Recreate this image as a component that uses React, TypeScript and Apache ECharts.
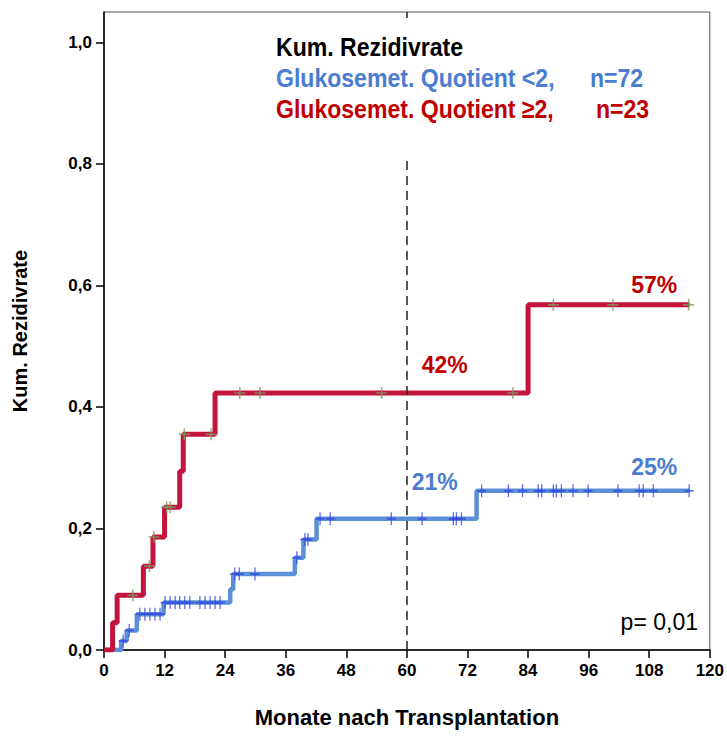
import React, { useEffect, useRef } from "react";
import * as echarts from "echarts";

// ---- data ----
const xTickValues = [0, 12, 24, 36, 48, 60, 72, 84, 96, 108, 120];
const yTickValues = [0, 0.2, 0.4, 0.6, 0.8, 1.0];

// Glukosemet. Quotient >= 2 (n=23): [month, cumulative recurrence]
const highSteps: [number, number][] = [
  [0, 0], [1.7, 0.045], [2.6, 0.09], [7.8, 0.138], [9.7, 0.186], [12, 0.235],
  [15, 0.294], [15.7, 0.355], [22, 0.423], [84, 0.568],
];
const highCensor = [5.7, 9.0, 9.9, 12.4, 13.1, 15.9, 21.2, 26.9, 30.9, 55, 81, 89, 100.8, 115.8];
const highEnd = 116;

// Glukosemet. Quotient < 2 (n=72)
const lowSteps: [number, number][] = [
  [0, 0], [3.4, 0.015], [4.5, 0.032], [6.5, 0.059], [11.8, 0.078], [25, 0.1],
  [25.6, 0.125], [37.8, 0.152], [39.5, 0.182], [42.1, 0.216], [73.8, 0.262],
];
const lowCensor = [
  3.8, 5.0, 7.1, 8.1, 9.1, 10.1, 11.1,
  12.1, 13.1, 14.1, 15.0, 16.0, 17.0, 19.0, 20.0, 21.0, 22.0, 23.0,
  25.9, 26.8, 29.9, 38.2, 39.8, 40.4,
  42.8, 44.8, 56.9, 63, 69.2, 69.8, 70.8,
  74.8, 80.1, 82.9, 86, 86.7, 89, 89.6, 90.6, 92.9, 95.9, 101.8, 106, 106.8, 108.8, 115.9,
];
const lowEnd = 116;

const landmarkMonth = 60;
const annotations = [
  { text: "42%", month: 67.5, value: 0.469, group: "high" },
  { text: "57%", month: 109, value: 0.6, group: "high" },
  { text: "21%", month: 65.5, value: 0.276, group: "low" },
  { text: "25%", month: 109, value: 0.301, group: "low" },
];

const legendTitle = "Kum. Rezidivrate";
const legendLow = "Glukosemet. Quotient <2,";
const legendLowN = "n=72";
const legendHigh = "Glukosemet. Quotient \u22652,";
const legendHighN = "n=23";
const pValue = "p= 0,01";
const xTitle = "Monate nach Transplantation";
const yTitle = "Kum. Rezidivrate";

// ---- helpers ----
const RED = "#c2143c";
const RED_TXT = "#c00000";
const BLUE = "#5b8fd8";
const BLUE_TXT = "#4a7dd0";
const RED_MARK = "#7f9a62";
const BLUE_MARK = "#3346e0";
const SANS = '"Liberation Sans", Arial, sans-serif';
const PLUS = "path://M-0.7,-5H0.7V-0.7H5V0.7H0.7V5H-0.7V0.7H-5V-0.7H-0.7Z";

function levelAt(steps: [number, number][], t: number) {
  let v = 0;
  for (const [s, y] of steps) if (s <= t) v = y;
  return v;
}
function curve(steps: [number, number][], end: number) {
  const d = steps.map((p) => [p[0], p[1]]);
  d.push([end, steps[steps.length - 1][1]]);
  return d;
}
const fmt = (v: number) => v.toFixed(1).replace(".", ",");

export default function App() {
  const ref = useRef<HTMLDivElement>(null);
  useEffect(() => {
    document.body.style.margin = "0";
    const chart = echarts.init(ref.current!, undefined, { renderer: "svg" });
    const annot = (g: string, color: string) =>
      annotations
        .filter((a) => a.group === g)
        .map((a) => ({
          coord: [a.month, a.value],
          symbolSize: 0,
          label: {
            show: true,
            formatter: a.text,
            color,
            fontFamily: SANS,
            fontWeight: "bold",
            fontSize: 23,
            position: "inside",
          },
        }));
    const legendText = (text: string, x: number, y: number, fill: string) => ({
      type: "text",
      z: 11,
      x,
      y,
      scaleX: 0.87,
      style: { text, fill, font: `bold 26.5px ${SANS}`, verticalAlign: "middle" },
    });
    chart.setOption({
      animation: false,
      grid: { left: 104, right: 17, top: 12, bottom: 92, show: true, borderColor: "#555", borderWidth: 1 },
      xAxis: {
        type: "value",
        min: 0,
        max: 120,
        interval: 12,
        splitLine: { show: false },
        axisLine: { show: true, lineStyle: { color: "#000", width: 1.5 } },
        axisTick: { show: true, length: 8, lineStyle: { color: "#000", width: 1.5 } },
        axisLabel: {
          color: "#000", fontFamily: SANS, fontWeight: "bold", fontSize: 17, margin: 12,
          formatter: (v: number) => (xTickValues.includes(v) ? String(v) : ""),
        },
        name: xTitle,
        nameLocation: "middle",
        nameGap: 56,
        nameTextStyle: { color: "#000", fontFamily: SANS, fontWeight: "bold", fontSize: 22 },
      },
      yAxis: {
        type: "value",
        min: 0,
        max: 1.05,
        splitLine: { show: false },
        axisLine: { show: true, lineStyle: { color: "#000", width: 1.5 } },
        axisTick: { show: true, length: 8, customValues: yTickValues, lineStyle: { color: "#000", width: 1.5 } },
        axisLabel: {
          color: "#000", fontFamily: SANS, fontWeight: "bold", fontSize: 17, margin: 12,
          customValues: yTickValues,
          formatter: (v: number) => fmt(v),
        },
        name: yTitle,
        nameLocation: "middle",
        nameGap: 74,
        nameTextStyle: { color: "#000", fontFamily: SANS, fontWeight: "bold", fontSize: 20 },
      },
      series: [
        {
          type: "line",
          step: "end",
          data: curve(lowSteps, lowEnd),
          showSymbol: false,
          lineStyle: { color: BLUE, width: 4.5 },
          z: 3,
          markPoint: { symbol: "circle", symbolSize: 0, data: annot("low", BLUE_TXT), silent: true },
          markLine: {
            silent: true,
            symbol: "none",
            label: { show: false },
            lineStyle: { color: "#222", width: 1.5, type: [9, 6] },
            data: [[{ coord: [landmarkMonth, 0] }, { coord: [landmarkMonth, 1.05] }]],
          },
        },
        {
          type: "line",
          step: "end",
          data: curve(highSteps, highEnd),
          showSymbol: false,
          lineStyle: { color: RED, width: 5 },
          z: 4,
          markPoint: { symbol: "circle", symbolSize: 0, data: annot("high", RED_TXT), silent: true },
        },
        {
          type: "scatter",
          data: lowCensor.map((t) => [t, levelAt(lowSteps, t)]),
          symbol: PLUS,
          symbolSize: [9, 13],
          itemStyle: { color: BLUE_MARK },
          z: 5,
        },
        {
          type: "scatter",
          data: highCensor.map((t) => [t, levelAt(highSteps, t)]),
          symbol: PLUS,
          symbolSize: [11, 12],
          itemStyle: { color: RED_MARK },
          z: 6,
        },
      ],
      graphic: [
        { type: "rect", z: 10, shape: { x: 268, y: 18, width: 390, height: 139 }, style: { fill: "#fff" } },
        legendText(legendTitle, 276, 47, "#000"),
        legendText(legendLow, 276, 78, BLUE_TXT),
        legendText(legendLowN, 590, 78, BLUE_TXT),
        legendText(legendHigh, 276, 109, RED_TXT),
        legendText(legendHighN, 596, 109, RED_TXT),
        { type: "text", z: 11, x: 698, y: 622, style: { text: pValue, fill: "#000", font: `23px ${SANS}`, align: "right", verticalAlign: "middle" } },
      ],
    });
    return () => chart.dispose();
  }, []);
  return <div ref={ref} style={{ width: 727, height: 742 }} />;
}
